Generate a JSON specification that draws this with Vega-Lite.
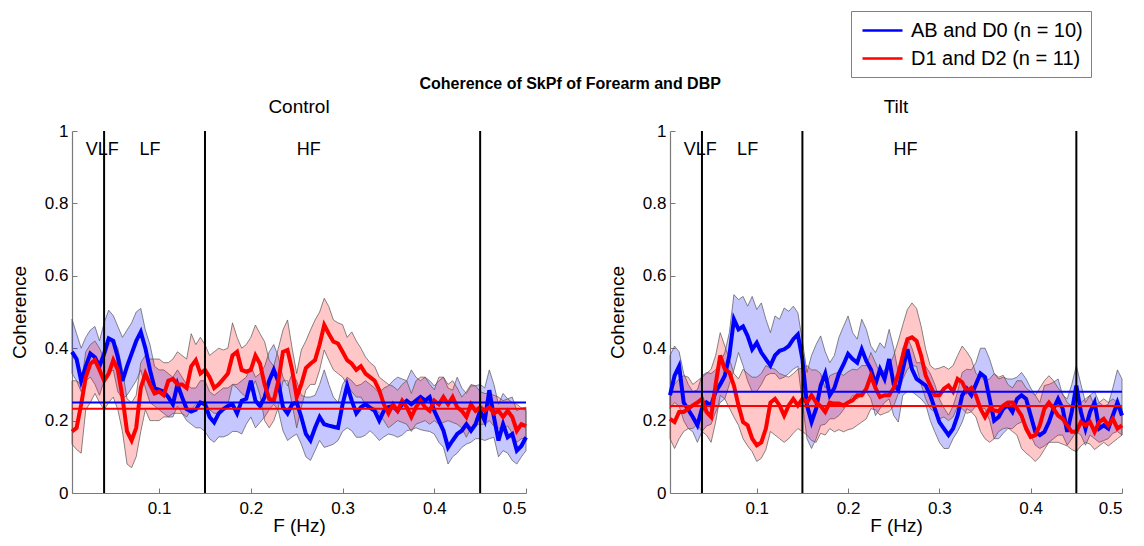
{
  "$schema": "https://vega.github.io/schema/vega-lite/v6.json",
  "background": "white",
  "padding": {"left": 10, "top": 10, "right": 12, "bottom": 8},
  "title": {"text": "Coherence of SkPf of Forearm and DBP", "fontSize": 16, "fontWeight": "bold", "font": "Liberation Sans", "color": "black", "anchor": "middle", "frame": "bounds", "offset": -81},
  "spacing": 74,
  "resolve": {"scale": {"stroke": "shared", "fill": "shared"}, "legend": {"stroke": "shared"}},
  "datasets": {
    "curves": [
      {"p":"Control","g":"AB","f":0.005,"m":0.39,"lo":0.33,"hi":0.48},
      {"p":"Control","g":"AB","f":0.010,"m":0.37,"lo":0.31,"hi":0.44},
      {"p":"Control","g":"AB","f":0.015,"m":0.31,"lo":0.28,"hi":0.40},
      {"p":"Control","g":"AB","f":0.020,"m":0.35,"lo":0.31,"hi":0.43},
      {"p":"Control","g":"AB","f":0.025,"m":0.385,"lo":0.32,"hi":0.45},
      {"p":"Control","g":"AB","f":0.030,"m":0.375,"lo":0.30,"hi":0.46},
      {"p":"Control","g":"AB","f":0.035,"m":0.35,"lo":0.27,"hi":0.42},
      {"p":"Control","g":"AB","f":0.040,"m":0.385,"lo":0.31,"hi":0.47},
      {"p":"Control","g":"AB","f":0.045,"m":0.427,"lo":0.33,"hi":0.505},
      {"p":"Control","g":"AB","f":0.050,"m":0.42,"lo":0.34,"hi":0.49},
      {"p":"Control","g":"AB","f":0.055,"m":0.375,"lo":0.28,"hi":0.46},
      {"p":"Control","g":"AB","f":0.060,"m":0.31,"lo":0.26,"hi":0.43},
      {"p":"Control","g":"AB","f":0.065,"m":0.35,"lo":0.27,"hi":0.45},
      {"p":"Control","g":"AB","f":0.070,"m":0.385,"lo":0.29,"hi":0.47},
      {"p":"Control","g":"AB","f":0.075,"m":0.42,"lo":0.31,"hi":0.50},
      {"p":"Control","g":"AB","f":0.080,"m":0.445,"lo":0.34,"hi":0.51},
      {"p":"Control","g":"AB","f":0.085,"m":0.40,"lo":0.29,"hi":0.45},
      {"p":"Control","g":"AB","f":0.090,"m":0.34,"lo":0.25,"hi":0.41},
      {"p":"Control","g":"AB","f":0.095,"m":0.29,"lo":0.24,"hi":0.35},
      {"p":"Control","g":"AB","f":0.100,"m":0.285,"lo":0.23,"hi":0.34},
      {"p":"Control","g":"AB","f":0.105,"m":0.28,"lo":0.22,"hi":0.34},
      {"p":"Control","g":"AB","f":0.110,"m":0.265,"lo":0.21,"hi":0.33},
      {"p":"Control","g":"AB","f":0.115,"m":0.245,"lo":0.21,"hi":0.32},
      {"p":"Control","g":"AB","f":0.120,"m":0.30,"lo":0.24,"hi":0.34},
      {"p":"Control","g":"AB","f":0.125,"m":0.265,"lo":0.22,"hi":0.32},
      {"p":"Control","g":"AB","f":0.130,"m":0.232,"lo":0.20,"hi":0.30},
      {"p":"Control","g":"AB","f":0.135,"m":0.225,"lo":0.19,"hi":0.29},
      {"p":"Control","g":"AB","f":0.140,"m":0.23,"lo":0.18,"hi":0.29},
      {"p":"Control","g":"AB","f":0.145,"m":0.25,"lo":0.18,"hi":0.31},
      {"p":"Control","g":"AB","f":0.150,"m":0.245,"lo":0.17,"hi":0.31},
      {"p":"Control","g":"AB","f":0.155,"m":0.21,"lo":0.15,"hi":0.28},
      {"p":"Control","g":"AB","f":0.160,"m":0.195,"lo":0.14,"hi":0.27},
      {"p":"Control","g":"AB","f":0.165,"m":0.22,"lo":0.155,"hi":0.28},
      {"p":"Control","g":"AB","f":0.170,"m":0.232,"lo":0.155,"hi":0.29},
      {"p":"Control","g":"AB","f":0.175,"m":0.24,"lo":0.16,"hi":0.29},
      {"p":"Control","g":"AB","f":0.180,"m":0.245,"lo":0.17,"hi":0.30},
      {"p":"Control","g":"AB","f":0.185,"m":0.22,"lo":0.17,"hi":0.30},
      {"p":"Control","g":"AB","f":0.190,"m":0.255,"lo":0.163,"hi":0.31},
      {"p":"Control","g":"AB","f":0.195,"m":0.26,"lo":0.19,"hi":0.32},
      {"p":"Control","g":"AB","f":0.200,"m":0.31,"lo":0.21,"hi":0.35},
      {"p":"Control","g":"AB","f":0.205,"m":0.255,"lo":0.18,"hi":0.32},
      {"p":"Control","g":"AB","f":0.210,"m":0.24,"lo":0.195,"hi":0.33},
      {"p":"Control","g":"AB","f":0.215,"m":0.265,"lo":0.21,"hi":0.35},
      {"p":"Control","g":"AB","f":0.220,"m":0.31,"lo":0.23,"hi":0.39},
      {"p":"Control","g":"AB","f":0.225,"m":0.34,"lo":0.245,"hi":0.41},
      {"p":"Control","g":"AB","f":0.230,"m":0.307,"lo":0.227,"hi":0.376},
      {"p":"Control","g":"AB","f":0.235,"m":0.237,"lo":0.172,"hi":0.32},
      {"p":"Control","g":"AB","f":0.240,"m":0.22,"lo":0.145,"hi":0.296},
      {"p":"Control","g":"AB","f":0.245,"m":0.245,"lo":0.155,"hi":0.33},
      {"p":"Control","g":"AB","f":0.250,"m":0.25,"lo":0.163,"hi":0.31},
      {"p":"Control","g":"AB","f":0.255,"m":0.21,"lo":0.135,"hi":0.27},
      {"p":"Control","g":"AB","f":0.260,"m":0.163,"lo":0.10,"hi":0.265},
      {"p":"Control","g":"AB","f":0.265,"m":0.145,"lo":0.09,"hi":0.265},
      {"p":"Control","g":"AB","f":0.270,"m":0.18,"lo":0.117,"hi":0.27},
      {"p":"Control","g":"AB","f":0.275,"m":0.21,"lo":0.145,"hi":0.30},
      {"p":"Control","g":"AB","f":0.280,"m":0.19,"lo":0.126,"hi":0.34},
      {"p":"Control","g":"AB","f":0.285,"m":0.186,"lo":0.13,"hi":0.30},
      {"p":"Control","g":"AB","f":0.290,"m":0.183,"lo":0.135,"hi":0.265},
      {"p":"Control","g":"AB","f":0.295,"m":0.18,"lo":0.145,"hi":0.25},
      {"p":"Control","g":"AB","f":0.300,"m":0.245,"lo":0.17,"hi":0.30},
      {"p":"Control","g":"AB","f":0.305,"m":0.297,"lo":0.18,"hi":0.32},
      {"p":"Control","g":"AB","f":0.310,"m":0.255,"lo":0.172,"hi":0.31},
      {"p":"Control","g":"AB","f":0.315,"m":0.22,"lo":0.154,"hi":0.296},
      {"p":"Control","g":"AB","f":0.320,"m":0.237,"lo":0.154,"hi":0.30},
      {"p":"Control","g":"AB","f":0.325,"m":0.245,"lo":0.16,"hi":0.31},
      {"p":"Control","g":"AB","f":0.330,"m":0.235,"lo":0.172,"hi":0.30},
      {"p":"Control","g":"AB","f":0.335,"m":0.227,"lo":0.16,"hi":0.29},
      {"p":"Control","g":"AB","f":0.340,"m":0.20,"lo":0.145,"hi":0.275},
      {"p":"Control","g":"AB","f":0.345,"m":0.227,"lo":0.155,"hi":0.29},
      {"p":"Control","g":"AB","f":0.350,"m":0.237,"lo":0.163,"hi":0.296},
      {"p":"Control","g":"AB","f":0.355,"m":0.24,"lo":0.16,"hi":0.31},
      {"p":"Control","g":"AB","f":0.360,"m":0.227,"lo":0.154,"hi":0.32},
      {"p":"Control","g":"AB","f":0.365,"m":0.245,"lo":0.16,"hi":0.315},
      {"p":"Control","g":"AB","f":0.370,"m":0.255,"lo":0.172,"hi":0.31},
      {"p":"Control","g":"AB","f":0.375,"m":0.245,"lo":0.175,"hi":0.34},
      {"p":"Control","g":"AB","f":0.380,"m":0.255,"lo":0.18,"hi":0.32},
      {"p":"Control","g":"AB","f":0.385,"m":0.265,"lo":0.175,"hi":0.31},
      {"p":"Control","g":"AB","f":0.390,"m":0.255,"lo":0.172,"hi":0.32},
      {"p":"Control","g":"AB","f":0.395,"m":0.265,"lo":0.17,"hi":0.31},
      {"p":"Control","g":"AB","f":0.400,"m":0.227,"lo":0.163,"hi":0.296},
      {"p":"Control","g":"AB","f":0.405,"m":0.20,"lo":0.14,"hi":0.31},
      {"p":"Control","g":"AB","f":0.410,"m":0.172,"lo":0.126,"hi":0.32},
      {"p":"Control","g":"AB","f":0.415,"m":0.126,"lo":0.08,"hi":0.29},
      {"p":"Control","g":"AB","f":0.420,"m":0.145,"lo":0.10,"hi":0.284},
      {"p":"Control","g":"AB","f":0.425,"m":0.163,"lo":0.11,"hi":0.32},
      {"p":"Control","g":"AB","f":0.430,"m":0.172,"lo":0.126,"hi":0.29},
      {"p":"Control","g":"AB","f":0.435,"m":0.19,"lo":0.135,"hi":0.275},
      {"p":"Control","g":"AB","f":0.440,"m":0.172,"lo":0.14,"hi":0.296},
      {"p":"Control","g":"AB","f":0.445,"m":0.19,"lo":0.15,"hi":0.296},
      {"p":"Control","g":"AB","f":0.450,"m":0.227,"lo":0.15,"hi":0.30},
      {"p":"Control","g":"AB","f":0.455,"m":0.20,"lo":0.145,"hi":0.29},
      {"p":"Control","g":"AB","f":0.460,"m":0.284,"lo":0.15,"hi":0.34},
      {"p":"Control","g":"AB","f":0.465,"m":0.21,"lo":0.154,"hi":0.30},
      {"p":"Control","g":"AB","f":0.470,"m":0.145,"lo":0.10,"hi":0.245},
      {"p":"Control","g":"AB","f":0.475,"m":0.19,"lo":0.117,"hi":0.275},
      {"p":"Control","g":"AB","f":0.480,"m":0.154,"lo":0.11,"hi":0.26},
      {"p":"Control","g":"AB","f":0.485,"m":0.163,"lo":0.09,"hi":0.265},
      {"p":"Control","g":"AB","f":0.490,"m":0.117,"lo":0.08,"hi":0.227},
      {"p":"Control","g":"AB","f":0.495,"m":0.13,"lo":0.10,"hi":0.235},
      {"p":"Control","g":"AB","f":0.500,"m":0.154,"lo":0.117,"hi":0.237},

      {"p":"Control","g":"D1","f":0.005,"m":0.17,"lo":0.135,"hi":0.31},
      {"p":"Control","g":"D1","f":0.010,"m":0.18,"lo":0.12,"hi":0.31},
      {"p":"Control","g":"D1","f":0.015,"m":0.245,"lo":0.11,"hi":0.30},
      {"p":"Control","g":"D1","f":0.020,"m":0.32,"lo":0.23,"hi":0.39},
      {"p":"Control","g":"D1","f":0.025,"m":0.357,"lo":0.25,"hi":0.41},
      {"p":"Control","g":"D1","f":0.030,"m":0.367,"lo":0.275,"hi":0.42},
      {"p":"Control","g":"D1","f":0.035,"m":0.34,"lo":0.25,"hi":0.40},
      {"p":"Control","g":"D1","f":0.040,"m":0.31,"lo":0.23,"hi":0.37},
      {"p":"Control","g":"D1","f":0.045,"m":0.33,"lo":0.25,"hi":0.41},
      {"p":"Control","g":"D1","f":0.050,"m":0.367,"lo":0.265,"hi":0.42},
      {"p":"Control","g":"D1","f":0.055,"m":0.34,"lo":0.23,"hi":0.40},
      {"p":"Control","g":"D1","f":0.060,"m":0.265,"lo":0.17,"hi":0.34},
      {"p":"Control","g":"D1","f":0.065,"m":0.17,"lo":0.08,"hi":0.26},
      {"p":"Control","g":"D1","f":0.070,"m":0.145,"lo":0.07,"hi":0.25},
      {"p":"Control","g":"D1","f":0.075,"m":0.18,"lo":0.10,"hi":0.27},
      {"p":"Control","g":"D1","f":0.080,"m":0.29,"lo":0.17,"hi":0.36},
      {"p":"Control","g":"D1","f":0.085,"m":0.33,"lo":0.23,"hi":0.38},
      {"p":"Control","g":"D1","f":0.090,"m":0.30,"lo":0.20,"hi":0.37},
      {"p":"Control","g":"D1","f":0.095,"m":0.275,"lo":0.20,"hi":0.37},
      {"p":"Control","g":"D1","f":0.100,"m":0.28,"lo":0.20,"hi":0.37},
      {"p":"Control","g":"D1","f":0.105,"m":0.27,"lo":0.21,"hi":0.36},
      {"p":"Control","g":"D1","f":0.110,"m":0.31,"lo":0.21,"hi":0.36},
      {"p":"Control","g":"D1","f":0.115,"m":0.315,"lo":0.22,"hi":0.37},
      {"p":"Control","g":"D1","f":0.120,"m":0.30,"lo":0.22,"hi":0.39},
      {"p":"Control","g":"D1","f":0.125,"m":0.30,"lo":0.22,"hi":0.38},
      {"p":"Control","g":"D1","f":0.130,"m":0.29,"lo":0.21,"hi":0.37},
      {"p":"Control","g":"D1","f":0.135,"m":0.35,"lo":0.23,"hi":0.44},
      {"p":"Control","g":"D1","f":0.140,"m":0.367,"lo":0.245,"hi":0.41},
      {"p":"Control","g":"D1","f":0.145,"m":0.33,"lo":0.25,"hi":0.43},
      {"p":"Control","g":"D1","f":0.150,"m":0.34,"lo":0.255,"hi":0.41},
      {"p":"Control","g":"D1","f":0.155,"m":0.32,"lo":0.23,"hi":0.38},
      {"p":"Control","g":"D1","f":0.160,"m":0.29,"lo":0.22,"hi":0.39},
      {"p":"Control","g":"D1","f":0.165,"m":0.30,"lo":0.22,"hi":0.40},
      {"p":"Control","g":"D1","f":0.170,"m":0.315,"lo":0.235,"hi":0.395},
      {"p":"Control","g":"D1","f":0.175,"m":0.33,"lo":0.245,"hi":0.40},
      {"p":"Control","g":"D1","f":0.180,"m":0.38,"lo":0.30,"hi":0.47},
      {"p":"Control","g":"D1","f":0.185,"m":0.39,"lo":0.29,"hi":0.43},
      {"p":"Control","g":"D1","f":0.190,"m":0.34,"lo":0.275,"hi":0.40},
      {"p":"Control","g":"D1","f":0.195,"m":0.335,"lo":0.265,"hi":0.41},
      {"p":"Control","g":"D1","f":0.200,"m":0.34,"lo":0.284,"hi":0.43},
      {"p":"Control","g":"D1","f":0.205,"m":0.38,"lo":0.31,"hi":0.464},
      {"p":"Control","g":"D1","f":0.210,"m":0.357,"lo":0.27,"hi":0.44},
      {"p":"Control","g":"D1","f":0.215,"m":0.30,"lo":0.20,"hi":0.418},
      {"p":"Control","g":"D1","f":0.220,"m":0.26,"lo":0.18,"hi":0.367},
      {"p":"Control","g":"D1","f":0.225,"m":0.255,"lo":0.20,"hi":0.35},
      {"p":"Control","g":"D1","f":0.230,"m":0.31,"lo":0.237,"hi":0.40},
      {"p":"Control","g":"D1","f":0.235,"m":0.39,"lo":0.31,"hi":0.45},
      {"p":"Control","g":"D1","f":0.240,"m":0.395,"lo":0.31,"hi":0.478},
      {"p":"Control","g":"D1","f":0.245,"m":0.34,"lo":0.245,"hi":0.40},
      {"p":"Control","g":"D1","f":0.250,"m":0.265,"lo":0.18,"hi":0.33},
      {"p":"Control","g":"D1","f":0.255,"m":0.30,"lo":0.237,"hi":0.395},
      {"p":"Control","g":"D1","f":0.260,"m":0.345,"lo":0.284,"hi":0.42},
      {"p":"Control","g":"D1","f":0.265,"m":0.357,"lo":0.30,"hi":0.45},
      {"p":"Control","g":"D1","f":0.270,"m":0.367,"lo":0.30,"hi":0.478},
      {"p":"Control","g":"D1","f":0.275,"m":0.41,"lo":0.34,"hi":0.50},
      {"p":"Control","g":"D1","f":0.280,"m":0.464,"lo":0.395,"hi":0.538},
      {"p":"Control","g":"D1","f":0.285,"m":0.44,"lo":0.367,"hi":0.515},
      {"p":"Control","g":"D1","f":0.290,"m":0.418,"lo":0.34,"hi":0.478},
      {"p":"Control","g":"D1","f":0.295,"m":0.413,"lo":0.33,"hi":0.47},
      {"p":"Control","g":"D1","f":0.300,"m":0.39,"lo":0.32,"hi":0.465},
      {"p":"Control","g":"D1","f":0.305,"m":0.367,"lo":0.30,"hi":0.43},
      {"p":"Control","g":"D1","f":0.310,"m":0.357,"lo":0.28,"hi":0.445},
      {"p":"Control","g":"D1","f":0.315,"m":0.34,"lo":0.265,"hi":0.42},
      {"p":"Control","g":"D1","f":0.320,"m":0.35,"lo":0.265,"hi":0.40},
      {"p":"Control","g":"D1","f":0.325,"m":0.33,"lo":0.245,"hi":0.376},
      {"p":"Control","g":"D1","f":0.330,"m":0.32,"lo":0.24,"hi":0.36},
      {"p":"Control","g":"D1","f":0.335,"m":0.31,"lo":0.235,"hi":0.35},
      {"p":"Control","g":"D1","f":0.340,"m":0.284,"lo":0.22,"hi":0.32},
      {"p":"Control","g":"D1","f":0.345,"m":0.245,"lo":0.20,"hi":0.31},
      {"p":"Control","g":"D1","f":0.350,"m":0.22,"lo":0.18,"hi":0.30},
      {"p":"Control","g":"D1","f":0.355,"m":0.245,"lo":0.19,"hi":0.295},
      {"p":"Control","g":"D1","f":0.360,"m":0.227,"lo":0.20,"hi":0.284},
      {"p":"Control","g":"D1","f":0.365,"m":0.255,"lo":0.195,"hi":0.30},
      {"p":"Control","g":"D1","f":0.370,"m":0.237,"lo":0.19,"hi":0.31},
      {"p":"Control","g":"D1","f":0.375,"m":0.21,"lo":0.17,"hi":0.275},
      {"p":"Control","g":"D1","f":0.380,"m":0.237,"lo":0.19,"hi":0.31},
      {"p":"Control","g":"D1","f":0.385,"m":0.255,"lo":0.195,"hi":0.32},
      {"p":"Control","g":"D1","f":0.390,"m":0.237,"lo":0.20,"hi":0.32},
      {"p":"Control","g":"D1","f":0.395,"m":0.227,"lo":0.19,"hi":0.30},
      {"p":"Control","g":"D1","f":0.400,"m":0.255,"lo":0.20,"hi":0.285},
      {"p":"Control","g":"D1","f":0.405,"m":0.245,"lo":0.19,"hi":0.32},
      {"p":"Control","g":"D1","f":0.410,"m":0.265,"lo":0.195,"hi":0.32},
      {"p":"Control","g":"D1","f":0.415,"m":0.245,"lo":0.20,"hi":0.30},
      {"p":"Control","g":"D1","f":0.420,"m":0.265,"lo":0.195,"hi":0.31},
      {"p":"Control","g":"D1","f":0.425,"m":0.237,"lo":0.19,"hi":0.29},
      {"p":"Control","g":"D1","f":0.430,"m":0.227,"lo":0.18,"hi":0.265},
      {"p":"Control","g":"D1","f":0.435,"m":0.21,"lo":0.154,"hi":0.28},
      {"p":"Control","g":"D1","f":0.440,"m":0.245,"lo":0.18,"hi":0.30},
      {"p":"Control","g":"D1","f":0.445,"m":0.227,"lo":0.19,"hi":0.296},
      {"p":"Control","g":"D1","f":0.450,"m":0.237,"lo":0.19,"hi":0.28},
      {"p":"Control","g":"D1","f":0.455,"m":0.227,"lo":0.19,"hi":0.275},
      {"p":"Control","g":"D1","f":0.460,"m":0.237,"lo":0.20,"hi":0.275},
      {"p":"Control","g":"D1","f":0.465,"m":0.22,"lo":0.185,"hi":0.27},
      {"p":"Control","g":"D1","f":0.470,"m":0.227,"lo":0.18,"hi":0.265},
      {"p":"Control","g":"D1","f":0.475,"m":0.21,"lo":0.175,"hi":0.255},
      {"p":"Control","g":"D1","f":0.480,"m":0.227,"lo":0.185,"hi":0.26},
      {"p":"Control","g":"D1","f":0.485,"m":0.21,"lo":0.165,"hi":0.25},
      {"p":"Control","g":"D1","f":0.490,"m":0.172,"lo":0.14,"hi":0.245},
      {"p":"Control","g":"D1","f":0.495,"m":0.19,"lo":0.15,"hi":0.235},
      {"p":"Control","g":"D1","f":0.500,"m":0.185,"lo":0.15,"hi":0.227},

      {"p":"Tilt","g":"AB","f":0.005,"m":0.27,"lo":0.233,"hi":0.38},
      {"p":"Tilt","g":"AB","f":0.010,"m":0.324,"lo":0.25,"hi":0.406},
      {"p":"Tilt","g":"AB","f":0.015,"m":0.35,"lo":0.24,"hi":0.39},
      {"p":"Tilt","g":"AB","f":0.020,"m":0.25,"lo":0.20,"hi":0.33},
      {"p":"Tilt","g":"AB","f":0.025,"m":0.23,"lo":0.178,"hi":0.30},
      {"p":"Tilt","g":"AB","f":0.030,"m":0.21,"lo":0.169,"hi":0.28},
      {"p":"Tilt","g":"AB","f":0.035,"m":0.187,"lo":0.14,"hi":0.285},
      {"p":"Tilt","g":"AB","f":0.040,"m":0.233,"lo":0.17,"hi":0.324},
      {"p":"Tilt","g":"AB","f":0.045,"m":0.25,"lo":0.185,"hi":0.333},
      {"p":"Tilt","g":"AB","f":0.050,"m":0.242,"lo":0.19,"hi":0.33},
      {"p":"Tilt","g":"AB","f":0.055,"m":0.28,"lo":0.224,"hi":0.34},
      {"p":"Tilt","g":"AB","f":0.060,"m":0.30,"lo":0.25,"hi":0.36},
      {"p":"Tilt","g":"AB","f":0.065,"m":0.324,"lo":0.26,"hi":0.388},
      {"p":"Tilt","g":"AB","f":0.070,"m":0.38,"lo":0.30,"hi":0.443},
      {"p":"Tilt","g":"AB","f":0.075,"m":0.48,"lo":0.34,"hi":0.548},
      {"p":"Tilt","g":"AB","f":0.080,"m":0.452,"lo":0.388,"hi":0.534},
      {"p":"Tilt","g":"AB","f":0.085,"m":0.46,"lo":0.352,"hi":0.543},
      {"p":"Tilt","g":"AB","f":0.090,"m":0.434,"lo":0.31,"hi":0.516},
      {"p":"Tilt","g":"AB","f":0.095,"m":0.397,"lo":0.28,"hi":0.543},
      {"p":"Tilt","g":"AB","f":0.100,"m":0.415,"lo":0.28,"hi":0.507},
      {"p":"Tilt","g":"AB","f":0.105,"m":0.388,"lo":0.30,"hi":0.525},
      {"p":"Tilt","g":"AB","f":0.110,"m":0.37,"lo":0.324,"hi":0.48},
      {"p":"Tilt","g":"AB","f":0.115,"m":0.352,"lo":0.33,"hi":0.443},
      {"p":"Tilt","g":"AB","f":0.120,"m":0.38,"lo":0.33,"hi":0.489},
      {"p":"Tilt","g":"AB","f":0.125,"m":0.393,"lo":0.315,"hi":0.48},
      {"p":"Tilt","g":"AB","f":0.130,"m":0.397,"lo":0.32,"hi":0.511},
      {"p":"Tilt","g":"AB","f":0.135,"m":0.406,"lo":0.33,"hi":0.502},
      {"p":"Tilt","g":"AB","f":0.140,"m":0.425,"lo":0.342,"hi":0.516},
      {"p":"Tilt","g":"AB","f":0.145,"m":0.438,"lo":0.35,"hi":0.498},
      {"p":"Tilt","g":"AB","f":0.150,"m":0.37,"lo":0.25,"hi":0.42},
      {"p":"Tilt","g":"AB","f":0.155,"m":0.242,"lo":0.15,"hi":0.333},
      {"p":"Tilt","g":"AB","f":0.160,"m":0.196,"lo":0.123,"hi":0.38},
      {"p":"Tilt","g":"AB","f":0.165,"m":0.233,"lo":0.15,"hi":0.41},
      {"p":"Tilt","g":"AB","f":0.170,"m":0.297,"lo":0.187,"hi":0.434},
      {"p":"Tilt","g":"AB","f":0.175,"m":0.33,"lo":0.19,"hi":0.39},
      {"p":"Tilt","g":"AB","f":0.180,"m":0.27,"lo":0.205,"hi":0.36},
      {"p":"Tilt","g":"AB","f":0.185,"m":0.29,"lo":0.205,"hi":0.38},
      {"p":"Tilt","g":"AB","f":0.190,"m":0.33,"lo":0.214,"hi":0.43},
      {"p":"Tilt","g":"AB","f":0.195,"m":0.355,"lo":0.23,"hi":0.46},
      {"p":"Tilt","g":"AB","f":0.200,"m":0.384,"lo":0.25,"hi":0.489},
      {"p":"Tilt","g":"AB","f":0.205,"m":0.37,"lo":0.27,"hi":0.443},
      {"p":"Tilt","g":"AB","f":0.210,"m":0.36,"lo":0.26,"hi":0.425},
      {"p":"Tilt","g":"AB","f":0.215,"m":0.397,"lo":0.27,"hi":0.48},
      {"p":"Tilt","g":"AB","f":0.220,"m":0.365,"lo":0.28,"hi":0.452},
      {"p":"Tilt","g":"AB","f":0.225,"m":0.342,"lo":0.26,"hi":0.406},
      {"p":"Tilt","g":"AB","f":0.230,"m":0.30,"lo":0.214,"hi":0.388},
      {"p":"Tilt","g":"AB","f":0.235,"m":0.342,"lo":0.233,"hi":0.415},
      {"p":"Tilt","g":"AB","f":0.240,"m":0.315,"lo":0.25,"hi":0.40},
      {"p":"Tilt","g":"AB","f":0.245,"m":0.37,"lo":0.26,"hi":0.452},
      {"p":"Tilt","g":"AB","f":0.250,"m":0.30,"lo":0.214,"hi":0.40},
      {"p":"Tilt","g":"AB","f":0.255,"m":0.285,"lo":0.196,"hi":0.333},
      {"p":"Tilt","g":"AB","f":0.260,"m":0.342,"lo":0.27,"hi":0.40},
      {"p":"Tilt","g":"AB","f":0.265,"m":0.397,"lo":0.28,"hi":0.43},
      {"p":"Tilt","g":"AB","f":0.270,"m":0.342,"lo":0.28,"hi":0.40},
      {"p":"Tilt","g":"AB","f":0.275,"m":0.315,"lo":0.27,"hi":0.36},
      {"p":"Tilt","g":"AB","f":0.280,"m":0.306,"lo":0.26,"hi":0.36},
      {"p":"Tilt","g":"AB","f":0.285,"m":0.297,"lo":0.245,"hi":0.35},
      {"p":"Tilt","g":"AB","f":0.290,"m":0.27,"lo":0.20,"hi":0.33},
      {"p":"Tilt","g":"AB","f":0.295,"m":0.233,"lo":0.169,"hi":0.30},
      {"p":"Tilt","g":"AB","f":0.300,"m":0.196,"lo":0.14,"hi":0.26},
      {"p":"Tilt","g":"AB","f":0.305,"m":0.178,"lo":0.123,"hi":0.235},
      {"p":"Tilt","g":"AB","f":0.310,"m":0.16,"lo":0.123,"hi":0.215},
      {"p":"Tilt","g":"AB","f":0.315,"m":0.178,"lo":0.15,"hi":0.24},
      {"p":"Tilt","g":"AB","f":0.320,"m":0.214,"lo":0.17,"hi":0.28},
      {"p":"Tilt","g":"AB","f":0.325,"m":0.27,"lo":0.196,"hi":0.333},
      {"p":"Tilt","g":"AB","f":0.330,"m":0.288,"lo":0.233,"hi":0.342},
      {"p":"Tilt","g":"AB","f":0.335,"m":0.27,"lo":0.225,"hi":0.34},
      {"p":"Tilt","g":"AB","f":0.340,"m":0.30,"lo":0.24,"hi":0.36},
      {"p":"Tilt","g":"AB","f":0.345,"m":0.33,"lo":0.235,"hi":0.40},
      {"p":"Tilt","g":"AB","f":0.350,"m":0.32,"lo":0.233,"hi":0.40},
      {"p":"Tilt","g":"AB","f":0.355,"m":0.26,"lo":0.20,"hi":0.37},
      {"p":"Tilt","g":"AB","f":0.360,"m":0.20,"lo":0.15,"hi":0.33},
      {"p":"Tilt","g":"AB","f":0.365,"m":0.21,"lo":0.15,"hi":0.315},
      {"p":"Tilt","g":"AB","f":0.370,"m":0.233,"lo":0.165,"hi":0.32},
      {"p":"Tilt","g":"AB","f":0.375,"m":0.242,"lo":0.178,"hi":0.315},
      {"p":"Tilt","g":"AB","f":0.380,"m":0.224,"lo":0.178,"hi":0.315},
      {"p":"Tilt","g":"AB","f":0.385,"m":0.26,"lo":0.19,"hi":0.32},
      {"p":"Tilt","g":"AB","f":0.390,"m":0.27,"lo":0.196,"hi":0.333},
      {"p":"Tilt","g":"AB","f":0.395,"m":0.26,"lo":0.19,"hi":0.315},
      {"p":"Tilt","g":"AB","f":0.400,"m":0.214,"lo":0.16,"hi":0.29},
      {"p":"Tilt","g":"AB","f":0.405,"m":0.169,"lo":0.132,"hi":0.27},
      {"p":"Tilt","g":"AB","f":0.410,"m":0.16,"lo":0.123,"hi":0.25},
      {"p":"Tilt","g":"AB","f":0.415,"m":0.169,"lo":0.13,"hi":0.297},
      {"p":"Tilt","g":"AB","f":0.420,"m":0.196,"lo":0.14,"hi":0.30},
      {"p":"Tilt","g":"AB","f":0.425,"m":0.233,"lo":0.15,"hi":0.306},
      {"p":"Tilt","g":"AB","f":0.430,"m":0.26,"lo":0.16,"hi":0.315},
      {"p":"Tilt","g":"AB","f":0.435,"m":0.233,"lo":0.16,"hi":0.27},
      {"p":"Tilt","g":"AB","f":0.440,"m":0.169,"lo":0.132,"hi":0.26},
      {"p":"Tilt","g":"AB","f":0.445,"m":0.224,"lo":0.15,"hi":0.30},
      {"p":"Tilt","g":"AB","f":0.450,"m":0.297,"lo":0.17,"hi":0.352},
      {"p":"Tilt","g":"AB","f":0.455,"m":0.224,"lo":0.16,"hi":0.30},
      {"p":"Tilt","g":"AB","f":0.460,"m":0.178,"lo":0.132,"hi":0.25},
      {"p":"Tilt","g":"AB","f":0.465,"m":0.224,"lo":0.16,"hi":0.27},
      {"p":"Tilt","g":"AB","f":0.470,"m":0.25,"lo":0.15,"hi":0.28},
      {"p":"Tilt","g":"AB","f":0.475,"m":0.178,"lo":0.14,"hi":0.25},
      {"p":"Tilt","g":"AB","f":0.480,"m":0.187,"lo":0.145,"hi":0.24},
      {"p":"Tilt","g":"AB","f":0.485,"m":0.178,"lo":0.15,"hi":0.245},
      {"p":"Tilt","g":"AB","f":0.490,"m":0.214,"lo":0.165,"hi":0.29},
      {"p":"Tilt","g":"AB","f":0.495,"m":0.25,"lo":0.17,"hi":0.34},
      {"p":"Tilt","g":"AB","f":0.500,"m":0.214,"lo":0.16,"hi":0.315},

      {"p":"Tilt","g":"D1","f":0.005,"m":0.205,"lo":0.15,"hi":0.27},
      {"p":"Tilt","g":"D1","f":0.010,"m":0.196,"lo":0.123,"hi":0.30},
      {"p":"Tilt","g":"D1","f":0.015,"m":0.224,"lo":0.15,"hi":0.315},
      {"p":"Tilt","g":"D1","f":0.020,"m":0.224,"lo":0.17,"hi":0.324},
      {"p":"Tilt","g":"D1","f":0.025,"m":0.233,"lo":0.178,"hi":0.32},
      {"p":"Tilt","g":"D1","f":0.030,"m":0.242,"lo":0.178,"hi":0.30},
      {"p":"Tilt","g":"D1","f":0.035,"m":0.25,"lo":0.19,"hi":0.31},
      {"p":"Tilt","g":"D1","f":0.040,"m":0.26,"lo":0.17,"hi":0.32},
      {"p":"Tilt","g":"D1","f":0.045,"m":0.224,"lo":0.16,"hi":0.33},
      {"p":"Tilt","g":"D1","f":0.050,"m":0.21,"lo":0.14,"hi":0.342},
      {"p":"Tilt","g":"D1","f":0.055,"m":0.30,"lo":0.196,"hi":0.38},
      {"p":"Tilt","g":"D1","f":0.060,"m":0.38,"lo":0.27,"hi":0.443},
      {"p":"Tilt","g":"D1","f":0.065,"m":0.342,"lo":0.26,"hi":0.406},
      {"p":"Tilt","g":"D1","f":0.070,"m":0.333,"lo":0.235,"hi":0.37},
      {"p":"Tilt","g":"D1","f":0.075,"m":0.297,"lo":0.21,"hi":0.33},
      {"p":"Tilt","g":"D1","f":0.080,"m":0.242,"lo":0.187,"hi":0.315},
      {"p":"Tilt","g":"D1","f":0.085,"m":0.196,"lo":0.15,"hi":0.342},
      {"p":"Tilt","g":"D1","f":0.090,"m":0.187,"lo":0.13,"hi":0.33},
      {"p":"Tilt","g":"D1","f":0.095,"m":0.15,"lo":0.114,"hi":0.32},
      {"p":"Tilt","g":"D1","f":0.100,"m":0.132,"lo":0.087,"hi":0.32},
      {"p":"Tilt","g":"D1","f":0.105,"m":0.14,"lo":0.096,"hi":0.33},
      {"p":"Tilt","g":"D1","f":0.110,"m":0.178,"lo":0.12,"hi":0.352},
      {"p":"Tilt","g":"D1","f":0.115,"m":0.25,"lo":0.17,"hi":0.345},
      {"p":"Tilt","g":"D1","f":0.120,"m":0.26,"lo":0.16,"hi":0.342},
      {"p":"Tilt","g":"D1","f":0.125,"m":0.242,"lo":0.15,"hi":0.33},
      {"p":"Tilt","g":"D1","f":0.130,"m":0.214,"lo":0.14,"hi":0.325},
      {"p":"Tilt","g":"D1","f":0.135,"m":0.242,"lo":0.15,"hi":0.32},
      {"p":"Tilt","g":"D1","f":0.140,"m":0.26,"lo":0.165,"hi":0.33},
      {"p":"Tilt","g":"D1","f":0.145,"m":0.242,"lo":0.178,"hi":0.342},
      {"p":"Tilt","g":"D1","f":0.150,"m":0.26,"lo":0.17,"hi":0.345},
      {"p":"Tilt","g":"D1","f":0.155,"m":0.25,"lo":0.16,"hi":0.352},
      {"p":"Tilt","g":"D1","f":0.160,"m":0.27,"lo":0.145,"hi":0.34},
      {"p":"Tilt","g":"D1","f":0.165,"m":0.25,"lo":0.14,"hi":0.34},
      {"p":"Tilt","g":"D1","f":0.170,"m":0.24,"lo":0.165,"hi":0.33},
      {"p":"Tilt","g":"D1","f":0.175,"m":0.224,"lo":0.16,"hi":0.29},
      {"p":"Tilt","g":"D1","f":0.180,"m":0.25,"lo":0.178,"hi":0.324},
      {"p":"Tilt","g":"D1","f":0.185,"m":0.247,"lo":0.169,"hi":0.33},
      {"p":"Tilt","g":"D1","f":0.190,"m":0.247,"lo":0.175,"hi":0.333},
      {"p":"Tilt","g":"D1","f":0.195,"m":0.242,"lo":0.169,"hi":0.325},
      {"p":"Tilt","g":"D1","f":0.200,"m":0.25,"lo":0.175,"hi":0.335},
      {"p":"Tilt","g":"D1","f":0.205,"m":0.256,"lo":0.178,"hi":0.342},
      {"p":"Tilt","g":"D1","f":0.210,"m":0.27,"lo":0.187,"hi":0.34},
      {"p":"Tilt","g":"D1","f":0.215,"m":0.27,"lo":0.196,"hi":0.352},
      {"p":"Tilt","g":"D1","f":0.220,"m":0.288,"lo":0.205,"hi":0.352},
      {"p":"Tilt","g":"D1","f":0.225,"m":0.324,"lo":0.233,"hi":0.388},
      {"p":"Tilt","g":"D1","f":0.230,"m":0.29,"lo":0.23,"hi":0.36},
      {"p":"Tilt","g":"D1","f":0.235,"m":0.265,"lo":0.215,"hi":0.33},
      {"p":"Tilt","g":"D1","f":0.240,"m":0.27,"lo":0.22,"hi":0.34},
      {"p":"Tilt","g":"D1","f":0.245,"m":0.27,"lo":0.225,"hi":0.35},
      {"p":"Tilt","g":"D1","f":0.250,"m":0.29,"lo":0.24,"hi":0.38},
      {"p":"Tilt","g":"D1","f":0.255,"m":0.33,"lo":0.275,"hi":0.42},
      {"p":"Tilt","g":"D1","f":0.260,"m":0.38,"lo":0.315,"hi":0.465},
      {"p":"Tilt","g":"D1","f":0.265,"m":0.425,"lo":0.342,"hi":0.507},
      {"p":"Tilt","g":"D1","f":0.270,"m":0.43,"lo":0.352,"hi":0.525},
      {"p":"Tilt","g":"D1","f":0.275,"m":0.42,"lo":0.35,"hi":0.51},
      {"p":"Tilt","g":"D1","f":0.280,"m":0.38,"lo":0.30,"hi":0.461},
      {"p":"Tilt","g":"D1","f":0.285,"m":0.324,"lo":0.26,"hi":0.397},
      {"p":"Tilt","g":"D1","f":0.290,"m":0.297,"lo":0.233,"hi":0.352},
      {"p":"Tilt","g":"D1","f":0.295,"m":0.27,"lo":0.224,"hi":0.342},
      {"p":"Tilt","g":"D1","f":0.300,"m":0.27,"lo":0.205,"hi":0.345},
      {"p":"Tilt","g":"D1","f":0.305,"m":0.288,"lo":0.21,"hi":0.35},
      {"p":"Tilt","g":"D1","f":0.310,"m":0.297,"lo":0.20,"hi":0.342},
      {"p":"Tilt","g":"D1","f":0.315,"m":0.28,"lo":0.21,"hi":0.352},
      {"p":"Tilt","g":"D1","f":0.320,"m":0.315,"lo":0.24,"hi":0.38},
      {"p":"Tilt","g":"D1","f":0.325,"m":0.306,"lo":0.233,"hi":0.406},
      {"p":"Tilt","g":"D1","f":0.330,"m":0.28,"lo":0.22,"hi":0.39},
      {"p":"Tilt","g":"D1","f":0.335,"m":0.29,"lo":0.224,"hi":0.37},
      {"p":"Tilt","g":"D1","f":0.340,"m":0.27,"lo":0.21,"hi":0.33},
      {"p":"Tilt","g":"D1","f":0.345,"m":0.233,"lo":0.17,"hi":0.32},
      {"p":"Tilt","g":"D1","f":0.350,"m":0.21,"lo":0.15,"hi":0.31},
      {"p":"Tilt","g":"D1","f":0.355,"m":0.233,"lo":0.14,"hi":0.315},
      {"p":"Tilt","g":"D1","f":0.360,"m":0.228,"lo":0.15,"hi":0.33},
      {"p":"Tilt","g":"D1","f":0.365,"m":0.226,"lo":0.17,"hi":0.32},
      {"p":"Tilt","g":"D1","f":0.370,"m":0.242,"lo":0.178,"hi":0.325},
      {"p":"Tilt","g":"D1","f":0.375,"m":0.25,"lo":0.18,"hi":0.30},
      {"p":"Tilt","g":"D1","f":0.380,"m":0.25,"lo":0.17,"hi":0.29},
      {"p":"Tilt","g":"D1","f":0.385,"m":0.233,"lo":0.16,"hi":0.31},
      {"p":"Tilt","g":"D1","f":0.390,"m":0.214,"lo":0.123,"hi":0.31},
      {"p":"Tilt","g":"D1","f":0.395,"m":0.178,"lo":0.11,"hi":0.29},
      {"p":"Tilt","g":"D1","f":0.400,"m":0.155,"lo":0.10,"hi":0.28},
      {"p":"Tilt","g":"D1","f":0.405,"m":0.16,"lo":0.087,"hi":0.27},
      {"p":"Tilt","g":"D1","f":0.410,"m":0.187,"lo":0.10,"hi":0.29},
      {"p":"Tilt","g":"D1","f":0.415,"m":0.233,"lo":0.12,"hi":0.31},
      {"p":"Tilt","g":"D1","f":0.420,"m":0.25,"lo":0.14,"hi":0.324},
      {"p":"Tilt","g":"D1","f":0.425,"m":0.233,"lo":0.14,"hi":0.31},
      {"p":"Tilt","g":"D1","f":0.430,"m":0.214,"lo":0.14,"hi":0.29},
      {"p":"Tilt","g":"D1","f":0.435,"m":0.205,"lo":0.135,"hi":0.275},
      {"p":"Tilt","g":"D1","f":0.440,"m":0.187,"lo":0.13,"hi":0.25},
      {"p":"Tilt","g":"D1","f":0.445,"m":0.169,"lo":0.12,"hi":0.24},
      {"p":"Tilt","g":"D1","f":0.450,"m":0.169,"lo":0.114,"hi":0.235},
      {"p":"Tilt","g":"D1","f":0.455,"m":0.196,"lo":0.13,"hi":0.25},
      {"p":"Tilt","g":"D1","f":0.460,"m":0.187,"lo":0.14,"hi":0.26},
      {"p":"Tilt","g":"D1","f":0.465,"m":0.196,"lo":0.135,"hi":0.27},
      {"p":"Tilt","g":"D1","f":0.470,"m":0.169,"lo":0.12,"hi":0.24},
      {"p":"Tilt","g":"D1","f":0.475,"m":0.196,"lo":0.13,"hi":0.25},
      {"p":"Tilt","g":"D1","f":0.480,"m":0.205,"lo":0.14,"hi":0.26},
      {"p":"Tilt","g":"D1","f":0.485,"m":0.187,"lo":0.13,"hi":0.25},
      {"p":"Tilt","g":"D1","f":0.490,"m":0.205,"lo":0.14,"hi":0.26},
      {"p":"Tilt","g":"D1","f":0.495,"m":0.178,"lo":0.15,"hi":0.25},
      {"p":"Tilt","g":"D1","f":0.500,"m":0.187,"lo":0.16,"hi":0.235}
    ],
    "thr": [
      {"p":"Control","g":"AB","y":0.25},
      {"p":"Control","g":"D1","y":0.233},
      {"p":"Tilt","g":"AB","y":0.28},
      {"p":"Tilt","g":"D1","y":0.24}
    ],
    "edges": [{"f":0.04},{"f":0.15},{"f":0.45}],
    "bands": [
      {"t":"VLF","f":0.038,"y":0.948},
      {"t":"LF","f":0.09,"y":0.948},
      {"t":"HF","f":0.263,"y":0.948}
    ]
  },
  "config": {
    "font": "Liberation Sans",
    "view": {"stroke": null},
    "axis": {
      "grid": false,
      "domainColor": "#7a7a7a",
      "domainWidth": 1.2,
      "tickColor": "#7a7a7a",
      "tickSize": -5,
      "labelFont": "Liberation Sans",
      "labelFontSize": 17,
      "labelColor": "black",
      "titleFont": "Liberation Sans",
      "titleFontSize": 19,
      "titleFontWeight": "normal",
      "titleColor": "black"
    },
    "legend": {
      "orient": "none",
      "legendX": 779,
      "legendY": -120,
      "strokeColor": "#808080",
      "fillColor": "white",
      "padding": 8,
      "symbolType": "M-2,0H2",
      "symbolSize": 400,
      "symbolOffset": 12,
      "symbolStrokeWidth": 2.5,
      "labelFont": "Liberation Sans",
      "labelFontSize": 20,
      "labelColor": "black",
      "labelLimit": 400,
      "rowPadding": 6,
      "labelOffset": 17
    }
  },
  "hconcat": [
    {
      "title": {"text": "Control", "fontSize": 19, "fontWeight": "normal", "color": "black", "offset": 5, "anchor": "middle", "frame": "group"},
      "width": 454,
      "height": 362,
      "layer": [
        {
          "data": {"name": "curves"},
          "transform": [{"filter": "datum.p == 'Control'"}],
          "mark": {"type": "area", "fillOpacity": 0.22, "stroke": "#555555", "strokeWidth": 0.7},
          "encoding": {
            "x": {"field": "f", "type": "quantitative", "scale": {"domain": [0.005, 0.5], "nice": false, "zero": false},
                  "axis": {"title": "F (Hz)", "values": [0.1, 0.2, 0.3, 0.4, 0.5], "format": "~g", "labelPadding": 12, "titlePadding": 0}},
            "y": {"field": "lo", "type": "quantitative", "scale": {"domain": [0, 1], "nice": false},
                  "axis": {"title": "Coherence", "values": [0, 0.2, 0.4, 0.6, 0.8, 1], "format": "~g", "labelPadding": 9, "titlePadding": 15}},
            "y2": {"field": "hi"},
            "fill": {"field": "g", "type": "nominal", "scale": {"domain": ["D1", "AB"], "range": ["#ff0000", "#0000ff"]}, "legend": null}
          }
        },
        {
          "data": {"name": "curves"},
          "transform": [{"filter": "datum.p == 'Control'"}],
          "mark": {"type": "line", "strokeWidth": 4},
          "encoding": {
            "x": {"field": "f", "type": "quantitative", "scale": {"domain": [0.005, 0.5], "nice": false, "zero": false}},
            "y": {"field": "m", "type": "quantitative", "scale": {"domain": [0, 1], "nice": false}},
            "stroke": {"field": "g", "type": "nominal", "scale": {"domain": ["AB", "D1"], "range": ["#0000ff", "#ff0000"]},
                       "legend": {"title": null, "labelExpr": "datum.value == 'AB' ? 'AB and D0 (n = 10)' : 'D1 and D2 (n = 11)'"}}
          }
        },
        {
          "data": {"name": "thr"},
          "transform": [{"filter": "datum.p == 'Control'"}],
          "mark": {"type": "rule", "strokeWidth": 2},
          "encoding": {
            "y": {"field": "y", "type": "quantitative", "scale": {"domain": [0, 1], "nice": false}},
            "stroke": {"field": "g", "type": "nominal", "scale": {"domain": ["AB", "D1"], "range": ["#0000ff", "#ff0000"]},
                       "legend": {"title": null, "labelExpr": "datum.value == 'AB' ? 'AB and D0 (n = 10)' : 'D1 and D2 (n = 11)'"}}
          }
        },
        {
          "data": {"name": "edges"},
          "mark": {"type": "rule", "strokeWidth": 2, "color": "black"},
          "encoding": {
            "x": {"field": "f", "type": "quantitative", "scale": {"domain": [0.005, 0.5], "nice": false, "zero": false}}
          }
        },
        {
          "data": {"name": "bands"},
          "mark": {"type": "text", "fontSize": 18, "color": "black", "font": "Liberation Sans"},
          "encoding": {
            "x": {"field": "f", "type": "quantitative", "scale": {"domain": [0.005, 0.5], "nice": false, "zero": false}},
            "y": {"field": "y", "type": "quantitative", "scale": {"domain": [0, 1], "nice": false}},
            "text": {"field": "t"}
          }
        }
      ]
    },
    {
      "title": {"text": "Tilt", "fontSize": 19, "fontWeight": "normal", "color": "black", "offset": 5, "anchor": "middle", "frame": "group"},
      "width": 452,
      "height": 362,
      "layer": [
        {
          "data": {"name": "curves"},
          "transform": [{"filter": "datum.p == 'Tilt'"}],
          "mark": {"type": "area", "fillOpacity": 0.22, "stroke": "#555555", "strokeWidth": 0.7},
          "encoding": {
            "x": {"field": "f", "type": "quantitative", "scale": {"domain": [0.005, 0.5], "nice": false, "zero": false},
                  "axis": {"title": "F (Hz)", "values": [0.1, 0.2, 0.3, 0.4, 0.5], "format": "~g", "labelPadding": 12, "titlePadding": 0}},
            "y": {"field": "lo", "type": "quantitative", "scale": {"domain": [0, 1], "nice": false},
                  "axis": {"title": "Coherence", "values": [0, 0.2, 0.4, 0.6, 0.8, 1], "format": "~g", "labelPadding": 9, "titlePadding": 15}},
            "y2": {"field": "hi"},
            "fill": {"field": "g", "type": "nominal", "scale": {"domain": ["D1", "AB"], "range": ["#ff0000", "#0000ff"]}, "legend": null}
          }
        },
        {
          "data": {"name": "curves"},
          "transform": [{"filter": "datum.p == 'Tilt'"}],
          "mark": {"type": "line", "strokeWidth": 4},
          "encoding": {
            "x": {"field": "f", "type": "quantitative", "scale": {"domain": [0.005, 0.5], "nice": false, "zero": false}},
            "y": {"field": "m", "type": "quantitative", "scale": {"domain": [0, 1], "nice": false}},
            "stroke": {"field": "g", "type": "nominal", "scale": {"domain": ["AB", "D1"], "range": ["#0000ff", "#ff0000"]},
                       "legend": {"title": null, "labelExpr": "datum.value == 'AB' ? 'AB and D0 (n = 10)' : 'D1 and D2 (n = 11)'"}}
          }
        },
        {
          "data": {"name": "thr"},
          "transform": [{"filter": "datum.p == 'Tilt'"}],
          "mark": {"type": "rule", "strokeWidth": 2},
          "encoding": {
            "y": {"field": "y", "type": "quantitative", "scale": {"domain": [0, 1], "nice": false}},
            "stroke": {"field": "g", "type": "nominal", "scale": {"domain": ["AB", "D1"], "range": ["#0000ff", "#ff0000"]},
                       "legend": {"title": null, "labelExpr": "datum.value == 'AB' ? 'AB and D0 (n = 10)' : 'D1 and D2 (n = 11)'"}}
          }
        },
        {
          "data": {"name": "edges"},
          "mark": {"type": "rule", "strokeWidth": 2, "color": "black"},
          "encoding": {
            "x": {"field": "f", "type": "quantitative", "scale": {"domain": [0.005, 0.5], "nice": false, "zero": false}}
          }
        },
        {
          "data": {"name": "bands"},
          "mark": {"type": "text", "fontSize": 18, "color": "black", "font": "Liberation Sans"},
          "encoding": {
            "x": {"field": "f", "type": "quantitative", "scale": {"domain": [0.005, 0.5], "nice": false, "zero": false}},
            "y": {"field": "y", "type": "quantitative", "scale": {"domain": [0, 1], "nice": false}},
            "text": {"field": "t"}
          }
        }
      ]
    }
  ]
}
